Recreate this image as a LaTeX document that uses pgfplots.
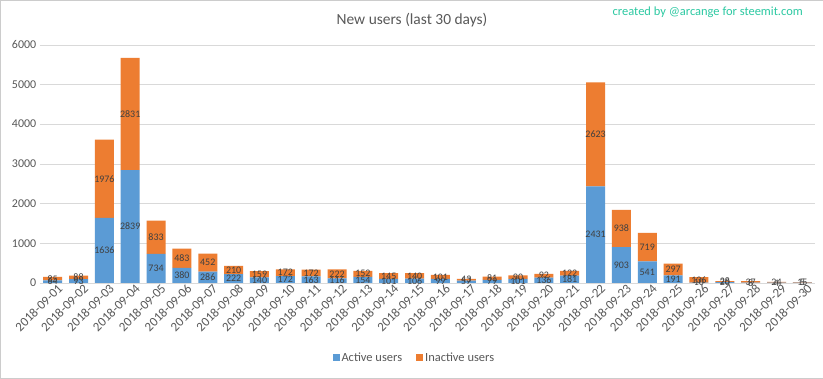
\documentclass[border=0pt]{standalone}
\usepackage{fontspec}
\setmainfont{Carlito}
\usepackage{pgfplots}
\usepackage{pgfplotstable}
\pgfplotsset{compat=1.18}
\definecolor{actc}{HTML}{5B9BD5}
\definecolor{inac}{HTML}{ED7D31}
\definecolor{txtg}{HTML}{595959}
\definecolor{lbl}{HTML}{404040}
\definecolor{credit}{HTML}{2CC9A2}
\pgfplotstableread{
x a i
0 64 85
1 93 88
2 1636 1976
3 2839 2831
4 734 833
5 380 483
6 286 452
7 222 210
8 140 159
9 172 172
10 163 172
11 116 222
12 154 152
13 101 145
14 106 140
15 99 101
16 57 43
17 79 81
18 101 90
19 136 92
20 181 122
21 2431 2623
22 903 938
23 541 719
24 191 297
25 10 136
26 20 28
27 8 37
28 4 24
29 5 15
}\data
\begin{document}
\begin{tikzpicture}
\draw[draw=gray!40, fill=white] (0.5bp,0.5bp) rectangle (822.5bp,378.5bp);
\node[text=txtg, font=\fontsize{15.5}{18}\selectfont] at (412bp,359bp) {New users (last 30 days)};
\node[text=credit, font=\fontsize{12.5}{15}\selectfont, anchor=east] at (806bp,366bp) {created by @arcange for steemit.com};
\begin{axis}[
  at={(40bp,96bp)}, anchor=south west, scale only axis,
  width=775bp, height=238bp,
  ybar stacked, bar width=19bp,
  xmin=-0.5, xmax=29.5, ymin=0, ymax=6000,
  ytick={0,1000,...,6000},
  xtick={0,...,29},
  xticklabels={2018-09-01,2018-09-02,2018-09-03,2018-09-04,2018-09-05,2018-09-06,2018-09-07,2018-09-08,2018-09-09,2018-09-10,2018-09-11,2018-09-12,2018-09-13,2018-09-14,2018-09-15,2018-09-16,2018-09-17,2018-09-18,2018-09-19,2018-09-20,2018-09-21,2018-09-22,2018-09-23,2018-09-24,2018-09-25,2018-09-26,2018-09-27,2018-09-28,2018-09-29,2018-09-30},
  xticklabel style={rotate=45, anchor=north east, font=\fontsize{13}{15}\selectfont, text=txtg, inner sep=1bp, xshift=4bp, yshift=-2bp},
  yticklabel style={font=\fontsize{12}{14}\selectfont, text=txtg},
  /pgf/number format/assume math mode=true,
  /pgf/number format/1000 sep={},
  major tick length=0pt,
  ymajorgrids, grid style={draw=gray!30},
  axis line style={draw=none},
  legend style={at={(0.483,-0.315)}, anchor=center, draw=none, fill=none,
    legend columns=2, font=\fontsize{12.5}{14}\selectfont, text=txtg,
    /tikz/every even column/.append style={column sep=12bp}},
  legend image code/.code={\fill[#1] (0bp,-3.5bp) rectangle (7bp,3.5bp);},
]
\addplot[fill=actc, draw=none] table[x=x, y=a] {\data};
\addplot[fill=inac, draw=none] table[x=x, y=i] {\data};
\legend{Active users, Inactive users}
\end{axis}
\begin{axis}[
  at={(40bp,96bp)}, anchor=south west, scale only axis,
  width=775bp, height=238bp,
  xmin=-0.5, xmax=29.5, ymin=0, ymax=6000,
  hide axis, clip=false,
]
\addplot[draw=none, mark=none, nodes near coords, point meta=explicit symbolic,
  nodes near coords style={anchor=center, font=\fontsize{10}{11}\selectfont, text=lbl, inner sep=0pt}]
  table[x=x, y expr=\thisrow{a}/2, meta=a] {\data};
\addplot[draw=none, mark=none, nodes near coords, point meta=explicit symbolic,
  nodes near coords style={anchor=center, font=\fontsize{10}{11}\selectfont, text=lbl, inner sep=0pt}]
  table[x=x, y expr=\thisrow{a}+\thisrow{i}/2, meta=i] {\data};
\end{axis}
\end{tikzpicture}
\end{document}
